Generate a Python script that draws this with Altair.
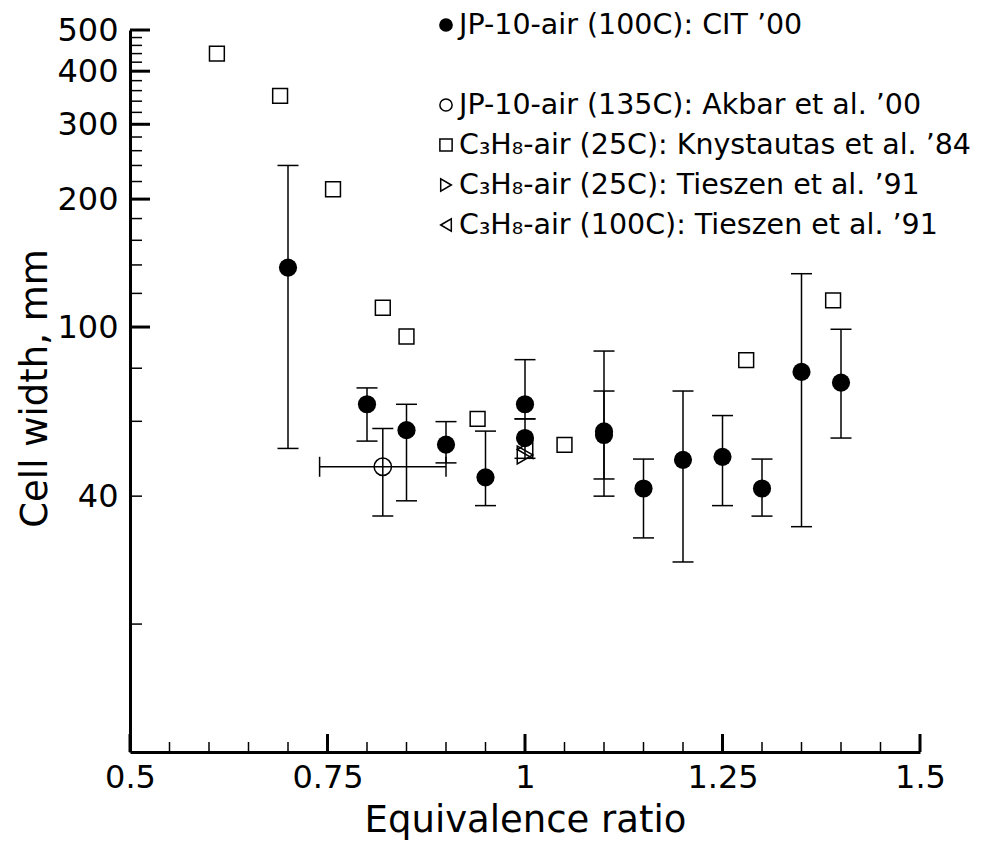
import altair as alt
import pandas as pd

# ---------------- data ----------------
# JP-10-air (100C): CIT '00  (filled circles with error bars)
cit_x = [0.70, 0.80, 0.85, 0.90, 0.95, 1.00, 1.00, 1.10, 1.10, 1.15, 1.20, 1.25, 1.30, 1.35, 1.40]
cit_y = [138, 65.8, 57.2, 52.9, 44.3, 65.8, 54.8, 56.8, 55.7, 41.7, 48.7, 49.5, 41.7, 78.4, 74.0]
cit_lo = [51.8, 53.9, 39.0, 47.9, 38.0, 60.8, 49.1, 40.0, 43.9, 31.9, 28.0, 38.0, 35.9, 33.9, 54.8]
cit_hi = [240, 71.9, 65.8, 59.9, 56.9, 83.8, 60.8, 87.8, 70.7, 48.9, 70.7, 61.9, 48.9, 133.5, 98.8]

# JP-10-air (135C): Akbar et al. '00 (open circle, x and y error bars)
ak_x = [0.82]
ak_y = [46.9]
ak_ylo = [35.9]
ak_yhi = [57.7]
ak_xlo = [0.74]
ak_xhi = [0.90]

# C3H8-air (25C): Knystautas et al. '84 (open squares)
kn_x = [0.61, 0.69, 0.757, 0.82, 0.85, 0.94, 1.05, 1.28, 1.39]
kn_y = [440, 350, 211, 111, 95, 60.8, 52.8, 83.6, 115.5]

# C3H8-air (25C / 100C): Tieszen et al. '91 (triangles)
t25_x = [1.0]
t25_y = [50.0]
t100_x = [1.0]
t100_y = [51.5]

series_names = [
    "JP-10-air (100C): CIT \u201900",
    " ",
    "JP-10-air (135C): Akbar et al. \u201900",
    "C\u2083H\u2088-air (25C): Knystautas et al. \u201984",
    "C\u2083H\u2088-air (25C): Tieszen et al. \u201991",
    "C\u2083H\u2088-air (100C): Tieszen et al. \u201991",
]
series_shapes = ["circle", "M0,0", "circle", "square", "triangle-right", "triangle-left"]
series_fills = ["black", "transparent", "transparent", "transparent", "transparent", "transparent"]

# axis ticks / labels
x_labels = [0.5, 0.75, 1.0, 1.25, 1.5]
x_major_ticks = [0.5, 0.75, 1.0, 1.25, 1.5]
x_minor_ticks = [0.55, 0.6, 0.65, 0.7, 0.8, 0.85, 0.9, 0.95,
                 1.05, 1.1, 1.15, 1.2, 1.3, 1.35, 1.4, 1.45]
y_labels = [40, 100, 200, 300, 400, 500]
y_major_ticks = [100, 200, 300, 400, 500]
y_minor_ticks = [20, 40, 60, 80, 120, 140, 160, 180, 220, 240, 260, 280,
                 320, 340, 360, 380, 420, 440, 460, 480]

# ---------------- tables ----------------
vbars = pd.concat([
    pd.DataFrame({"x": cit_x, "lo": cit_lo, "hi": cit_hi}),
    pd.DataFrame({"x": ak_x, "lo": ak_ylo, "hi": ak_yhi}),
], ignore_index=True)
vcaps = vbars.melt(id_vars=["x"], value_vars=["lo", "hi"], value_name="v")

hbars = pd.DataFrame({"y": ak_y, "xlo": ak_xlo, "xhi": ak_xhi})
hcaps = hbars.melt(id_vars=["y"], value_vars=["xlo", "xhi"], value_name="v")

legdf = pd.DataFrame({"s": [n for n in series_names if n.strip()]})

# ---------------- scales & axes ----------------
W, H = 790, 722
FONT = "DejaVu Sans"
xs = alt.Scale(domain=[0.5, 1.5], nice=False, zero=False)
ys = alt.Scale(type="log", domain=[10, 500], nice=False)

xaxis = alt.Axis(
    title="Equivalence ratio", values=x_labels, labelExpr="'' + datum.value", grid=False,
    ticks=False, tickSize=0, domainWidth=3, domainColor="black",
    labelFont=FONT, labelFontSize=32, labelColor="black", labelPadding=35,
    labelBaseline="alphabetic", labelFlush=False, labelOverlap=False,
    titleFont=FONT, titleFontSize=37, titleFontWeight="normal", titleColor="black",
    titleY=79, titleBaseline="alphabetic",
)
yaxis = alt.Axis(
    title="Cell width, mm", values=y_labels, format="d", grid=False,
    ticks=False, tickSize=0, domainWidth=3, domainColor="black",
    labelFont=FONT, labelFontSize=32, labelColor="black", labelPadding=12,
    labelBaseline="middle", labelAlign="right", labelFlush=False, labelOverlap=False,
    titleFont=FONT, titleFontSize=37, titleFontWeight="normal", titleColor="black",
    titleX=-84, titleY=358, titleAngle=270, titleBaseline="alphabetic",
)


def X(f, **kw):
    return alt.X(f, type="quantitative", scale=xs, axis=xaxis, **kw)


def Y(f, **kw):
    return alt.Y(f, type="quantitative", scale=ys, axis=yaxis, **kw)


# inward ticks
ymin = alt.Chart(pd.DataFrame({"v": y_minor_ticks})).mark_rule(
    color="black", strokeWidth=1.5).encode(y=Y("v"), x=alt.value(0), x2=alt.value(12))
ymaj = alt.Chart(pd.DataFrame({"v": y_major_ticks})).mark_rule(
    color="black", strokeWidth=3).encode(y=Y("v"), x=alt.value(0), x2=alt.value(20))
xmin = alt.Chart(pd.DataFrame({"v": x_minor_ticks})).mark_rule(
    color="black", strokeWidth=1.5).encode(x=X("v"), y=alt.value(H), y2=alt.value(H - 10))
xmaj = alt.Chart(pd.DataFrame({"v": x_major_ticks})).mark_rule(
    color="black", strokeWidth=3).encode(x=X("v"), y=alt.value(H), y2=alt.value(H - 18))

# error bars
vrule = alt.Chart(vbars).mark_rule(color="black", strokeWidth=1.5).encode(
    x=X("x"), y=Y("lo"), y2=alt.Y2("hi"))
vcap = alt.Chart(vcaps).mark_tick(color="black", orient="horizontal", size=21,
                                  thickness=1.5, opacity=1).encode(x=X("x"), y=Y("v"))
hrule = alt.Chart(hbars).mark_rule(color="black", strokeWidth=1.5).encode(
    y=Y("y"), x=X("xlo"), x2=alt.X2("xhi"))
hcap = alt.Chart(hcaps).mark_tick(color="black", orient="vertical", size=20,
                                  thickness=1.5, opacity=1).encode(x=X("v"), y=Y("y"))


# data markers, one layer per series
def pts(xv, yv, shape, size, filled):
    df = pd.DataFrame({"x": xv, "y": yv})
    if filled:
        m = alt.Chart(df).mark_point(shape=shape, size=size, filled=True,
                                     fill="black", strokeWidth=0, opacity=1)
    else:
        m = alt.Chart(df).mark_point(shape=shape, size=size, filled=False,
                                     stroke="black", strokeWidth=1.5, opacity=1)
    return m.encode(x=X("x"), y=Y("y"))


p_cit = pts(cit_x, cit_y, "circle", 330, True)
p_ak = pts(ak_x, ak_y, "circle", 300, False)
p_kn = pts(kn_x, kn_y, "square", 220, False)
p_t25 = pts(t25_x, t25_y, "triangle-right", 320, False)
p_t100 = pts(t100_x, t100_y, "triangle-left", 320, False)

main = alt.layer(ymin, ymaj, xmin, xmaj, vrule, vcap, hrule, hcap,
                 p_cit, p_ak, p_kn, p_t25, p_t100)

# legend (drawn as marks, rows placed by an ordinal scale over the series list)
legy = alt.Scale(type="point", domain=series_names, range=[-5, 195], padding=0)
leg_pts = alt.Chart(legdf).mark_point(size=150, strokeWidth=1.5, stroke="black", opacity=1).encode(
    x=alt.value(316),
    y=alt.Y("s:N", scale=legy, axis=None),
    shape=alt.Shape("s:N", scale=alt.Scale(domain=series_names, range=series_shapes), legend=None),
    fill=alt.Fill("s:N", scale=alt.Scale(domain=series_names, range=series_fills), legend=None),
)
leg_txt = alt.Chart(legdf).mark_text(align="left", baseline="middle", font=FONT,
                                     fontSize=28.5, color="black").encode(
    x=alt.value(329),
    y=alt.Y("s:N", scale=legy, axis=None),
    text="s:N",
)
leg = alt.layer(leg_pts, leg_txt)

chart = alt.layer(main, leg).resolve_scale(y="independent").properties(
    width=W, height=H,
    autosize=alt.AutoSizeParams(type="none"),
    padding={"left": 122, "top": 22, "right": 54, "bottom": 88},
    background="white",
).configure_view(stroke=None)

chart.save("out.html", embed_options={"renderer": "svg", "actions": False})
